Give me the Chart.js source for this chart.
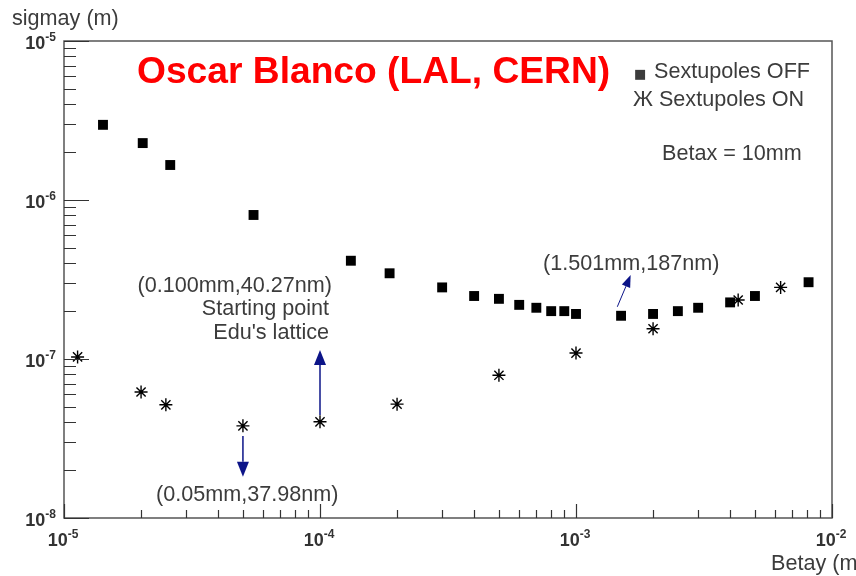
<!DOCTYPE html>
<html>
<head>
<meta charset="utf-8">
<script src="https://cdn.jsdelivr.net/npm/chart.js@4.4.1/dist/chart.umd.min.js"></script>
<style>
  html, body { margin: 0; padding: 0; background: #fff; }
  canvas { display: block; }
</style>
</head>
<body>
<canvas id="sigma_chart" width="856" height="576"></canvas>
<script>
// beta_y (m) vs sigma_y (m)
const betayOff = [1.42e-5, 2.03e-5, 2.6e-5, 5.5e-5, 1.32e-4, 1.87e-4, 3.0e-4, 4.0e-4, 5.0e-4, 6.0e-4, 7.0e-4,
  8.0e-4, 9.0e-4, 1.0e-3, 1.5e-3, 2.0e-3, 2.5e-3, 3.0e-3, 4.0e-3, 5.0e-3, 8.1e-3];
const sigmayOff = [2.97e-6, 2.28e-6, 1.66e-6, 8.05e-7, 4.15e-7, 3.46e-7, 2.82e-7, 2.49e-7, 2.39e-7, 2.19e-7, 2.10e-7,
  2.00e-7, 2.00e-7, 1.92e-7, 1.87e-7, 1.92e-7, 2.00e-7, 2.10e-7, 2.27e-7, 2.49e-7, 3.04e-7];

const betayOn = [1.13e-5, 2.0e-5, 2.5e-5, 5.0e-5, 1.0e-4, 2.0e-4, 5.0e-4, 1.0e-3, 2.0e-3, 4.3e-3, 6.3e-3];
const sigmayOn = [1.03e-7, 6.2e-8, 5.15e-8, 3.798e-8, 4.027e-8, 5.2e-8, 7.9e-8, 1.09e-7, 1.55e-7, 2.35e-7, 2.82e-7];

const xDecades = [-5, -4, -3, -2];
const yDecades = [-8, -7, -6, -5];

const TEXT = '#3c3c3c';
const ARROW = '#0c1488';
const FONT = '21.6px "Liberation Sans", Arial, sans-serif';

// arrows anchored in data space: [betay, sigmay]
const arrows = [
  { from: [1e-4, 4.45e-8], to: [1e-4, 1.14e-7], head: 15, half: 6, lw: 1.5 },
  { from: [5e-5, 3.28e-8], to: [5e-5, 1.82e-8], head: 15, half: 6, lw: 1.5 },
  { from: [1.45e-3, 2.13e-7], to: [1.635e-3, 3.37e-7], head: 12, half: 4.5, lw: 1 },
];

function zip(xs, ys) {
  return xs.map((x, i) => ({ x: x, y: ys[i] }));
}

function powLabel(ctx, exp, x, y, align) {
  const big = 'bold 18px "Liberation Sans", Arial, sans-serif';
  const small = 'bold 12px "Liberation Sans", Arial, sans-serif';
  ctx.font = big;
  let wb = ctx.measureText('10').width;
  ctx.font = small;
  let e = String(exp);
  let we = ctx.measureText(e).width;
  let left = align === 'right' ? x - wb - we : x - (wb + we) / 2;
  ctx.textAlign = 'left';
  ctx.textBaseline = 'alphabetic';
  ctx.font = big;
  ctx.fillText('10', left, y);
  ctx.font = small;
  ctx.fillText(e, left + wb, y - 8.5);
}

function drawArrow(ctx, x0, y0, x1, y1, a) {
  let ang = Math.atan2(y1 - y0, x1 - x0);
  let bx = x1 - a.head * Math.cos(ang), by = y1 - a.head * Math.sin(ang);
  ctx.strokeStyle = ARROW;
  ctx.fillStyle = ARROW;
  ctx.lineWidth = a.lw;
  ctx.beginPath();
  ctx.moveTo(x0, y0);
  ctx.lineTo(bx, by);
  ctx.stroke();
  ctx.beginPath();
  ctx.moveTo(x1, y1);
  ctx.lineTo(bx - a.half * Math.sin(ang), by + a.half * Math.cos(ang));
  ctx.lineTo(bx + a.half * Math.sin(ang), by - a.half * Math.cos(ang));
  ctx.closePath();
  ctx.fill();
}

const rootFrame = {
  id: 'rootFrame',
  afterDraw(chart) {
    const ctx = chart.ctx;
    const a = chart.chartArea;
    const xs = chart.scales.x, ys = chart.scales.y;
    ctx.save();

    // frame
    ctx.strokeStyle = '#555';
    ctx.lineWidth = 1.5;
    ctx.strokeRect(a.left, a.top, a.right - a.left, a.bottom - a.top);

    // ticks inside the frame
    ctx.strokeStyle = '#333';
    ctx.lineWidth = 1.2;
    ctx.beginPath();
    xDecades.forEach((d, i) => {
      for (let k = 1; k <= 9; k++) {
        if (i === xDecades.length - 1 && k > 1) break;
        let px = Math.round(xs.getPixelForValue(k * Math.pow(10, d))) + 0.5;
        ctx.moveTo(px, a.bottom);
        ctx.lineTo(px, a.bottom - (k === 1 ? 14 : 8));
      }
    });
    yDecades.forEach((d, i) => {
      for (let k = 1; k <= 9; k++) {
        if (i === yDecades.length - 1 && k > 1) break;
        let py = Math.round(ys.getPixelForValue(k * Math.pow(10, d))) + 0.5;
        ctx.moveTo(a.left, py);
        ctx.lineTo(a.left + (k === 1 ? 25 : 12), py);
      }
    });
    ctx.stroke();

    // tick labels
    ctx.fillStyle = '#333';
    xDecades.forEach(d => {
      powLabel(ctx, d, xs.getPixelForValue(Math.pow(10, d)) - 1, a.bottom + 28, 'center');
    });
    yDecades.forEach(d => {
      powLabel(ctx, d, a.left - 8, ys.getPixelForValue(Math.pow(10, d)) + 8, 'right');
    });

    // axis titles
    ctx.fillStyle = TEXT;
    ctx.font = FONT;
    ctx.textAlign = 'left';
    ctx.fillText('sigmay (m)', 12, 25);
    ctx.fillText('Betay (m)', 771, 570);

    // title
    ctx.fillStyle = '#ff0000';
    ctx.font = 'bold 37.2px "Liberation Sans", Arial, sans-serif';
    ctx.fillText('Oscar Blanco (LAL, CERN)', 137, 83);

    // legend
    ctx.fillStyle = TEXT;
    ctx.font = '13px "DejaVu Sans", sans-serif';
    ctx.fillText('■', 634, 78);
    ctx.font = FONT;
    ctx.fillText('Sextupoles OFF', 654, 78);
    ctx.fillText('Ж Sextupoles ON', 633, 106);
    ctx.fillText('Betax = 10mm', 662, 160);

    // annotations
    ctx.textAlign = 'right';
    ctx.fillText('(0.100mm,40.27nm)', 332, 292);
    ctx.fillText('Starting point', 329, 315);
    ctx.fillText("Edu's lattice", 329, 339);
    ctx.textAlign = 'left';
    ctx.fillText('(0.05mm,37.98nm)', 156, 501);
    ctx.fillText('(1.501mm,187nm)', 543, 270);

    arrows.forEach(ar => {
      drawArrow(ctx,
        xs.getPixelForValue(ar.from[0]), ys.getPixelForValue(ar.from[1]),
        xs.getPixelForValue(ar.to[0]), ys.getPixelForValue(ar.to[1]), ar);
    });

    ctx.restore();
  }
};

const el = document.getElementById('sigma_chart');
new Chart(el, {
  type: 'scatter',
  data: {
    datasets: [
      {
        label: 'Sextupoles OFF',
        data: zip(betayOff, sigmayOff),
        pointStyle: 'rect',
        pointRadius: 7,
        backgroundColor: '#000',
        borderColor: '#000',
        borderWidth: 0,
      },
      {
        label: 'Sextupoles ON',
        data: zip(betayOn, sigmayOn),
        pointStyle: 'star',
        pointRadius: 6.5,
        backgroundColor: '#000',
        borderColor: '#000',
        borderWidth: 1.4,
      },
    ]
  },
  options: {
    responsive: false,
    animation: false,
    devicePixelRatio: 1,
    layout: {
      padding: { left: 64, right: 24, top: 41, bottom: 58 }
    },
    scales: {
      x: { type: 'logarithmic', min: 1e-5, max: 1e-2, display: false },
      y: { type: 'logarithmic', min: 1e-8, max: 1e-5, display: false },
    },
    plugins: {
      legend: { display: false },
      tooltip: { enabled: false },
    },
  },
  plugins: [rootFrame]
});
</script>
</body>
</html>
